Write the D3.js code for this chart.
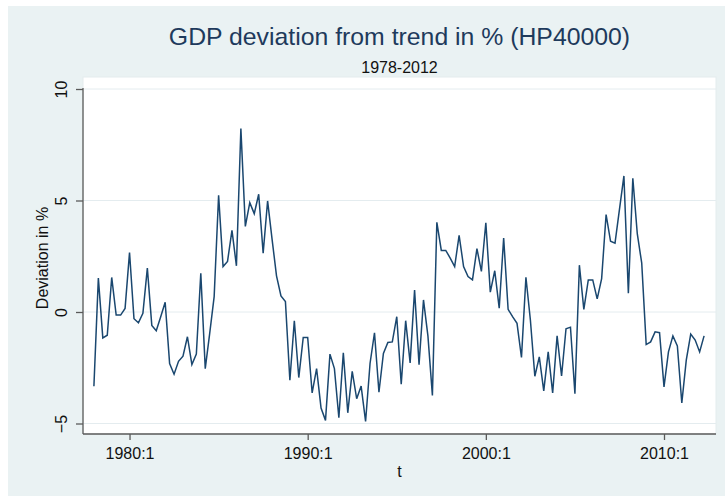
<!DOCTYPE html>
<html>
<head>
<meta charset="utf-8">
<script src="https://cdn.jsdelivr.net/npm/d3@7"></script>
<style>
  html, body { margin: 0; padding: 0; background: #ffffff; }
  svg { display: block; }
  text { font-family: "Liberation Sans", Arial, Helvetica, sans-serif; }
</style>
</head>
<body>
<svg id="chart" width="725" height="500"></svg>
<script>
// ---- Data (quarterly, 1978:1 - 2012:2) ----
const startYear = 1978;
const startQuarter = 1;
const deviation = [
  -3.33, 1.52, -1.16, -1.04,   // 1978
  1.55, -0.14, -0.14, 0.16,    // 1979
  2.67, -0.30, -0.48, -0.06,   // 1980
  1.97, -0.60, -0.84, -0.21,   // 1981
  0.44, -2.31, -2.79, -2.21,   // 1982
  -1.98, -1.11, -2.36, -1.89,  // 1983
  1.74, -2.54, -0.96, 0.69,    // 1984
  5.23, 2.04, 2.27, 3.66,      // 1985
  2.07, 8.23, 3.84, 4.90,      // 1986
  4.41, 5.28, 2.64, 4.98,      // 1987
  3.27, 1.62, 0.72, 0.47,      // 1988
  -3.06, -0.39, -2.94, -1.14,  // 1989
  -1.14, -3.63, -2.54, -4.31,  // 1990
  -4.86, -1.89, -2.54, -4.74,  // 1991
  -1.83, -4.52, -2.66, -3.89,  // 1992
  -3.32, -4.91, -2.31, -0.93,  // 1993
  -3.60, -1.86, -1.37, -1.34,  // 1994
  -0.21, -3.24, -0.39, -2.28,  // 1995
  0.99, -2.36, 0.54, -1.08,    // 1996
  -3.74, 4.02, 2.76, 2.76,     // 1997
  2.42, 2.04, 3.44, 2.04,      // 1998
  1.59, 1.44, 2.84, 1.82,      // 1999
  4.00, 0.89, 1.85, 0.17,      // 2000
  3.32, 0.12, -0.21, -0.51,    // 2001
  -2.04, 1.56, -0.36, -2.88,   // 2002
  -2.01, -3.54, -1.79, -3.63,  // 2003
  -1.07, -2.87, -0.75, -0.68,  // 2004
  -3.66, 2.10, 0.12, 1.44,     // 2005
  1.44, 0.59, 1.50, 4.37,      // 2006
  3.17, 3.09, 4.60, 6.10,      // 2007
  0.84, 6.00, 3.51, 2.19,      // 2008
  -1.46, -1.34, -0.89, -0.93,  // 2009
  -3.36, -1.79, -1.07, -1.52,  // 2010
  -4.08, -2.16, -0.99, -1.26,  // 2011
  -1.79, -1.07                 // 2012
];
const xTickLabels = ["1980:1", "1990:1", "2000:1", "2010:1"];
const yTicks = [-5, 0, 5, 10];
const titleText = "GDP deviation from trend in % (HP40000)";
const subtitleText = "1978-2012";
const yTitle = "Deviation in %";
const xTitle = "t";

// ---- Helpers ----
function labelToIndex(lbl) {
  const [y, q] = lbl.split(":").map(Number);
  return (y - startYear) * 4 + (q - startQuarter);
}

const svg = d3.select("#chart");

// Graph region background
svg.append("rect")
  .attr("x", 8).attr("y", 6).attr("width", 717).attr("height", 490)
  .attr("fill", "#eaf2f3");

// Plot region
const plot = { left: 83, right: 716, top: 77, bottom: 434 };
svg.append("rect")
  .attr("x", plot.left).attr("y", plot.top)
  .attr("width", plot.right - plot.left).attr("height", plot.bottom - plot.top)
  .attr("fill", "#ffffff")
  .attr("stroke", "#e3ecee").attr("stroke-width", 1);

// Scales
const x = d3.scaleLinear()
  .domain([0, labelToIndex("2010:1")])
  .range([93.9, 664]);
const y = d3.scaleLinear()
  .domain([-5, 10])
  .range([423.5, 89]);

// Gridlines
svg.append("g")
  .selectAll("line")
  .data(yTicks)
  .join("line")
  .attr("x1", plot.left).attr("x2", plot.right)
  .attr("y1", d => y(d)).attr("y2", d => y(d))
  .attr("stroke", "#e4ecef").attr("stroke-width", 1);

// Line
const data = deviation.map((v, i) => ({ i, v }));
svg.append("path")
  .datum(data)
  .attr("fill", "none")
  .attr("stroke", "#1a476f")
  .attr("stroke-width", 1.5)
  .attr("stroke-linejoin", "miter")
  .attr("d", d3.line().x(d => x(d.i)).y(d => y(d.v)));

// Y axis
const yAxis = svg.append("g")
  .attr("transform", `translate(${plot.left},0)`)
  .call(d3.axisLeft(y).tickValues(yTicks).tickSize(7).tickSizeOuter(0).tickFormat(d3.format("d")));
yAxis.select(".domain").attr("d", `M0,88V${plot.bottom}`);
yAxis.selectAll(".domain, .tick line").attr("stroke", "#5a5a5a").attr("stroke-width", 1.3);
yAxis.selectAll(".tick text")
  .attr("x", 0).attr("dy", "0.35em")
  .attr("transform", "translate(-22,0) rotate(-90)")
  .style("text-anchor", "middle")
  .style("font-size", "16px")
  .attr("fill", "#111");

// X axis
const xAxis = svg.append("g")
  .attr("transform", `translate(0,${plot.bottom})`)
  .call(d3.axisBottom(x)
    .tickValues(xTickLabels.map(labelToIndex))
    .tickFormat((d, i) => xTickLabels[i])
    .tickSize(6).tickSizeOuter(0));
xAxis.select(".domain").attr("d", `M${plot.left},0H${plot.right}`);
xAxis.selectAll(".domain, .tick line").attr("stroke", "#5a5a5a").attr("stroke-width", 1.3);
xAxis.selectAll(".tick text")
  .attr("y", 0).attr("dy", "25px")
  .style("font-size", "16px")
  .attr("fill", "#111");

// Titles
const cx = (plot.left + plot.right) / 2;
svg.append("text")
  .attr("x", cx).attr("y", 45)
  .attr("text-anchor", "middle")
  .style("font-size", "24.8px")
  .attr("fill", "#1e3a5c")
  .text(titleText);
svg.append("text")
  .attr("x", cx).attr("y", 73)
  .attr("text-anchor", "middle")
  .style("font-size", "16px")
  .attr("fill", "#111")
  .text(subtitleText);
svg.append("text")
  .attr("transform", `translate(48,258) rotate(-90)`)
  .attr("text-anchor", "middle")
  .style("font-size", "16px")
  .attr("fill", "#111")
  .text(yTitle);
svg.append("text")
  .attr("x", cx).attr("y", 477)
  .attr("text-anchor", "middle")
  .style("font-size", "16px")
  .attr("fill", "#111")
  .text(xTitle);
</script>
</body>
</html>
